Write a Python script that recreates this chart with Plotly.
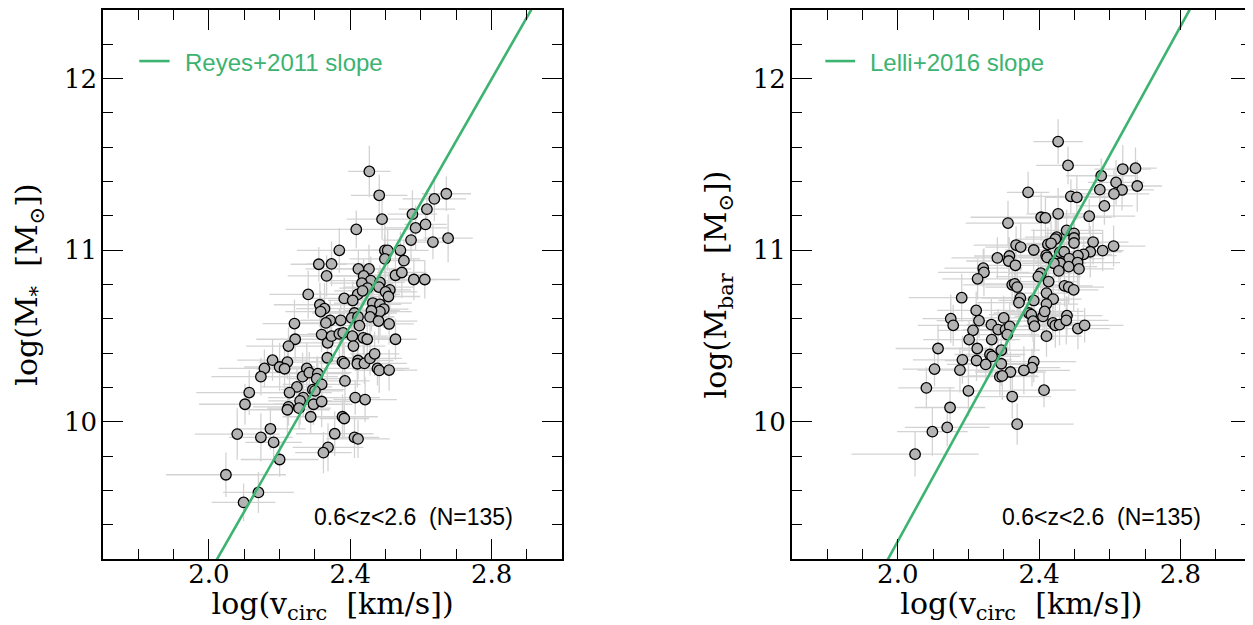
import plotly.graph_objects as go

# ---------------- Left panel: stellar-mass TFR ----------------
vc_left = [
    2.454, 2.482, 2.672, 2.638, 2.617, 2.576, 2.490, 2.613, 2.585, 2.417,
    2.677, 2.572, 2.634, 2.369, 2.498, 2.506, 2.542, 2.498, 2.552, 2.311,
    2.347, 2.423, 2.453, 2.333, 2.438, 2.528, 2.546, 2.580, 2.611, 2.458,
    2.433, 2.484, 2.449, 2.481, 2.281, 2.512, 2.500, 2.421, 2.435, 2.383,
    2.407, 2.508, 2.464, 2.484, 2.314, 2.327, 2.316, 2.495, 2.484, 2.460,
    2.412, 2.404, 2.456, 2.422, 2.343, 2.373, 2.331, 2.480, 2.510, 2.426,
    2.242,
    2.244, 2.319, 2.336, 2.347, 2.369, 2.380, 2.406, 2.437, 2.448, 2.528,
    2.225, 2.409, 2.180, 2.222, 2.335, 2.378, 2.383, 2.422, 2.420, 2.440,
    2.456, 2.469, 2.157, 2.200, 2.214, 2.277,
    2.477, 2.482, 2.510, 2.147, 2.265, 2.284, 2.308, 2.305, 2.319, 2.385,
    2.249, 2.228, 2.294, 2.300, 2.114, 2.267, 2.258, 2.296, 2.319, 2.414,
    2.442, 2.102, 2.225, 2.222, 2.255, 2.288,
    2.378, 2.383, 2.080, 2.174, 2.147, 2.183, 2.356, 2.412, 2.422, 2.337,
    2.324, 2.200, 2.048, 2.140, 2.098,
]
ms_left = [
    11.459, 11.320, 11.329, 11.299, 11.239, 11.210, 11.181, 11.150, 11.130, 11.121,
    11.070, 11.059, 11.047, 10.999, 10.999, 10.999, 10.999, 10.949, 10.939, 10.918,
    10.920, 10.891, 10.891, 10.850, 10.850, 10.854, 10.870, 10.829, 10.829, 10.823,
    10.808, 10.812, 10.779, 10.785, 10.742, 10.769, 10.757, 10.742, 10.763, 10.719,
    10.707, 10.730, 10.692, 10.684, 10.682, 10.659, 10.642, 10.657, 10.642, 10.647,
    10.634, 10.605, 10.611, 10.611, 10.591, 10.591, 10.576, 10.587, 10.570, 10.560,
    10.572,
    10.481, 10.508, 10.460, 10.499, 10.512, 10.518, 10.499, 10.489, 10.481, 10.481,
    10.441, 10.441, 10.359, 10.348, 10.373, 10.350, 10.340, 10.357, 10.338, 10.340,
    10.369, 10.396, 10.311, 10.319, 10.309, 10.311,
    10.311, 10.299, 10.301, 10.263, 10.263, 10.286, 10.280, 10.251, 10.218, 10.238,
    10.203, 10.170, 10.187, 10.180, 10.170, 10.141, 10.122, 10.102, 10.118, 10.141,
    10.129, 10.102, 10.087, 10.070, 10.079, 10.029,
    10.029, 10.019, 9.928, 9.959, 9.909, 9.880, 9.930, 9.909, 9.900, 9.851,
    9.820, 9.780, 9.691, 9.588, 9.530,
]
ex_left = [
    0.06, 0.08, 0.07, 0.09, 0.08, 0.07, 0.10, 0.06, 0.09, 0.20,
    0.07, 0.08, 0.06, 0.12, 0.09, 0.07, 0.08, 0.10, 0.06, 0.08,
    0.07, 0.15, 0.09, 0.11, 0.08, 0.09, 0.07, 0.06, 0.10, 0.12,
    0.09, 0.07, 0.08, 0.10, 0.11, 0.06, 0.09, 0.12, 0.08, 0.10,
    0.07, 0.09, 0.11, 0.06, 0.13, 0.08, 0.10, 0.07, 0.09, 0.08,
    0.12, 0.09, 0.07, 0.10, 0.08, 0.13, 0.09, 0.11, 0.07, 0.10,
    0.09, 0.11, 0.08, 0.10, 0.12, 0.09, 0.07, 0.10, 0.08, 0.09,
    0.06, 0.12, 0.09, 0.10, 0.08, 0.11, 0.09, 0.07, 0.10, 0.08,
    0.12, 0.09, 0.07, 0.13, 0.10, 0.08, 0.11, 0.09, 0.07, 0.08,
    0.14, 0.10, 0.12, 0.09, 0.08, 0.11, 0.07, 0.10, 0.12, 0.09,
    0.08, 0.15, 0.10, 0.09, 0.11, 0.08, 0.07, 0.09, 0.13, 0.10,
    0.12, 0.09, 0.08, 0.10, 0.07, 0.12, 0.10, 0.09, 0.08, 0.11,
    0.07, 0.09, 0.10, 0.08, 0.11, 0.17, 0.10, 0.09,
]
ey_left = [
    0.15, 0.12, 0.10, 0.13, 0.11, 0.14, 0.12, 0.10, 0.13, 0.11,
    0.14, 0.12, 0.10, 0.13, 0.15, 0.12, 0.11, 0.14, 0.12, 0.10,
    0.13, 0.11, 0.14, 0.12, 0.10, 0.13, 0.15, 0.12, 0.11, 0.14,
    0.12, 0.10, 0.13, 0.11, 0.14, 0.12, 0.15, 0.10, 0.13, 0.12,
    0.11, 0.14, 0.12, 0.10, 0.13, 0.15, 0.12, 0.11, 0.14, 0.12,
    0.10, 0.13, 0.11, 0.14, 0.12, 0.15, 0.10, 0.13, 0.12, 0.11,
    0.14, 0.12, 0.10, 0.13, 0.11, 0.15, 0.12, 0.14, 0.10, 0.13,
    0.12, 0.11, 0.14, 0.12, 0.10, 0.13, 0.15, 0.12, 0.11, 0.14,
    0.12, 0.10, 0.13, 0.11, 0.14, 0.12, 0.15, 0.10, 0.13, 0.12,
    0.11, 0.14, 0.12, 0.10, 0.13, 0.15, 0.12, 0.11, 0.14, 0.12,
    0.10, 0.13, 0.11, 0.14, 0.12, 0.15, 0.10, 0.13, 0.12, 0.11,
    0.14, 0.12, 0.10, 0.13, 0.11, 0.15, 0.12, 0.14, 0.10, 0.13,
    0.12, 0.11, 0.14, 0.12, 0.10, 0.13, 0.12, 0.11,
]

# ---------------- Right panel: baryonic TFR ----------------
vc_right = [
    2.454, 2.482, 2.637, 2.673, 2.576, 2.618, 2.678, 2.635, 2.572, 2.612,
    2.369, 2.490, 2.507, 2.585, 2.406, 2.418, 2.454, 2.542, 2.312, 2.478,
    2.499, 2.450, 2.446, 2.499, 2.553, 2.499, 2.611, 2.335, 2.348, 2.385,
    2.425, 2.434, 2.459, 2.471, 2.580, 2.545, 2.526, 2.510, 2.282, 2.316,
    2.314, 2.333, 2.420, 2.423, 2.485, 2.460, 2.442, 2.509, 2.484, 2.513,
    2.456, 2.242, 2.244, 2.226, 2.405, 2.398, 2.427, 2.324, 2.331, 2.338,
    2.472, 2.484, 2.498, 2.421, 2.181, 2.347, 2.385, 2.440,
    2.343, 2.421,
    2.222, 2.150, 2.157, 2.230, 2.300, 2.265, 2.284, 2.305, 2.317, 2.310,
    2.371, 2.378, 2.411, 2.416, 2.383, 2.387, 2.439, 2.446, 2.458, 2.479, 2.477,
    2.510, 2.529, 2.213, 2.202, 2.266, 2.421, 2.114, 2.225, 2.293, 2.261,
    2.267, 2.183, 2.223, 2.249, 2.293, 2.385, 2.380, 2.357, 2.319, 2.104,
    2.176, 2.289, 2.296, 2.081, 2.200, 2.414,
    2.324, 2.148, 2.140, 2.098, 2.338, 2.049,
]
mb_right = [
    11.633, 11.494, 11.473, 11.478, 11.434, 11.395, 11.374, 11.351, 11.353, 11.328,
    11.337, 11.314, 11.308, 11.258, 11.192, 11.188, 11.212, 11.198, 11.158, 11.115,
    11.098, 11.076, 11.065, 11.071, 11.047, 11.042, 11.024, 11.030, 11.018, 11.001,
    11.034, 11.040, 10.989, 10.991, 10.997, 10.991, 10.976, 10.968, 10.955, 10.966,
    10.937, 10.912, 10.970, 10.958, 10.951, 10.924, 10.924, 10.928, 10.904, 10.891,
    10.879, 10.895, 10.871, 10.833, 10.866, 10.846, 10.817, 10.798, 10.804, 10.785,
    10.792, 10.785, 10.769, 10.750, 10.723, 10.721, 10.707, 10.715,
    10.694, 10.686,
    10.649, 10.601, 10.562, 10.589, 10.605, 10.566, 10.537, 10.537, 10.556, 10.508,
    10.634, 10.624, 10.614, 10.643, 10.586, 10.557, 10.576, 10.562, 10.566, 10.618, 10.591,
    10.543, 10.562, 10.533, 10.479, 10.479, 10.499, 10.427, 10.427, 10.417, 10.392,
    10.381, 10.361, 10.357, 10.334, 10.338, 10.350, 10.315, 10.300, 10.290, 10.307,
    10.301, 10.263, 10.267, 10.197, 10.180, 10.184,
    10.147, 10.083, 9.967, 9.942, 9.986, 9.811,
]
ex_right = [
    0.07, 0.09, 0.08, 0.06, 0.10, 0.08, 0.07, 0.09, 0.08, 0.10,
    0.06, 0.11, 0.09, 0.08, 0.20, 0.10, 0.09, 0.13, 0.12, 0.10,
    0.08, 0.09, 0.11, 0.07, 0.10, 0.08, 0.09, 0.12, 0.10, 0.08,
    0.09, 0.07, 0.08, 0.10, 0.06, 0.09, 0.08, 0.11, 0.13, 0.10,
    0.12, 0.09, 0.11, 0.08, 0.10, 0.07, 0.09, 0.12, 0.08, 0.10,
    0.07, 0.11, 0.13, 0.10, 0.09, 0.12, 0.08, 0.14, 0.10, 0.09,
    0.08, 0.10, 0.07, 0.09, 0.15, 0.11, 0.10, 0.08, 0.12, 0.09,
    0.11, 0.08, 0.10, 0.12, 0.09, 0.07, 0.10, 0.11, 0.08, 0.09,
    0.10, 0.12, 0.08, 0.11, 0.09, 0.10, 0.07, 0.09, 0.08, 0.10,
    0.12, 0.09, 0.11, 0.10, 0.13, 0.08, 0.10, 0.12, 0.09, 0.11,
    0.10, 0.08, 0.14, 0.09, 0.11, 0.10, 0.12, 0.08, 0.13, 0.10,
    0.09, 0.12, 0.11, 0.10, 0.08, 0.13, 0.09, 0.11, 0.10, 0.12,
    0.10, 0.16, 0.18,
]
ey_right = [
    0.13, 0.11, 0.14, 0.12, 0.10, 0.13, 0.15, 0.12, 0.11, 0.14,
    0.12, 0.10, 0.13, 0.11, 0.14, 0.12, 0.15, 0.10, 0.13, 0.12,
    0.11, 0.14, 0.12, 0.10, 0.13, 0.15, 0.12, 0.11, 0.14, 0.12,
    0.10, 0.13, 0.11, 0.14, 0.12, 0.15, 0.10, 0.13, 0.12, 0.11,
    0.14, 0.12, 0.10, 0.13, 0.11, 0.15, 0.12, 0.14, 0.10, 0.13,
    0.12, 0.11, 0.14, 0.12, 0.10, 0.13, 0.15, 0.12, 0.11, 0.14,
    0.12, 0.10, 0.13, 0.11, 0.14, 0.12, 0.15, 0.10, 0.13, 0.12,
    0.11, 0.14, 0.12, 0.10, 0.13, 0.15, 0.12, 0.11, 0.14, 0.12,
    0.10, 0.13, 0.11, 0.14, 0.12, 0.15, 0.10, 0.13, 0.12, 0.11,
    0.14, 0.12, 0.10, 0.13, 0.11, 0.15, 0.12, 0.14, 0.10, 0.13,
    0.12, 0.11, 0.14, 0.12, 0.10, 0.13, 0.12, 0.11, 0.14, 0.12,
    0.10, 0.13, 0.11, 0.14, 0.12, 0.15, 0.10, 0.13, 0.12, 0.11,
    0.14, 0.12, 0.13,
]

assert len(vc_left) == len(ms_left) == len(ex_left) == len(ey_left)
assert len(vc_right) == len(mb_right) == len(ex_right) == len(ey_right)

# Reference relations (slope, intercept)
reyes_slope, reyes_int = 3.60, 1.917
lelli_slope, lelli_int = 3.75, 1.803
line_x = [1.7, 3.0]

x_tick_vals = [2.0, 2.4, 2.8]
y_tick_vals = [10, 11, 12]

GREEN = "#3CB371"
ERR = "#D3D3D3"
FILL = "#B4B4B4"
SERIF = "DejaVu Serif"
SANS = "Liberation Sans"

fig = go.Figure()

panels = [
    ("x", "y", vc_left, ms_left, ex_left, ey_left, reyes_slope, reyes_int),
    ("x2", "y2", vc_right, mb_right, ex_right, ey_right, lelli_slope, lelli_int),
]
for xa, ya, vx, vy, ex, ey, sl, ic in panels:
    fig.add_trace(go.Scatter(
        x=vx, y=vy, mode="markers", xaxis=xa, yaxis=ya,
        marker=dict(size=10, opacity=0),
        error_x=dict(type="data", array=ex, color=ERR, thickness=1.3, width=0),
        error_y=dict(type="data", array=ey, color=ERR, thickness=1.3, width=0),
        hoverinfo="skip", showlegend=False))
    fig.add_trace(go.Scatter(
        x=vx, y=vy, mode="markers", xaxis=xa, yaxis=ya,
        marker=dict(size=10.5, color=FILL, line=dict(color="black", width=1.3)),
        showlegend=False))
    fig.add_trace(go.Scatter(
        x=line_x, y=[sl * v + ic for v in line_x], mode="lines",
        xaxis=xa, yaxis=ya, line=dict(color=GREEN, width=2.6),
        showlegend=False, hoverinfo="skip"))

tickfont = dict(family=SERIF, size=26, color="black")
titlefont = dict(family=SERIF, size=30, color="black")

def xaxis_cfg(domain, anchor):
    return dict(
        domain=domain, anchor=anchor, range=[1.7, 3.0],
        tickmode="array", tickvals=x_tick_vals, ticktext=[f"{v:.1f}" for v in x_tick_vals],
        ticks="inside", ticklen=20, tickwidth=1.3, tickcolor="black",
        mirror="allticks", showline=True, linecolor="black", linewidth=1.5,
        showgrid=False, zeroline=False, tickfont=tickfont, ticklabelstandoff=-9,
        minor=dict(dtick=0.1, tick0=2.0, ticks="inside", ticklen=10,
                   tickwidth=1.3, tickcolor="black", showgrid=False),
        title=dict(text="log(v<sub>circ</sub>&nbsp; [km/s])", font=titlefont, standoff=4),
    )

def yaxis_cfg(anchor, title):
    return dict(
        domain=[0, 1], anchor=anchor, range=[9.2, 12.4],
        tickmode="array", tickvals=y_tick_vals, ticktext=[str(v) for v in y_tick_vals],
        ticks="inside", ticklen=20, tickwidth=1.3, tickcolor="black",
        mirror="allticks", showline=True, linecolor="black", linewidth=1.5,
        showgrid=False, zeroline=False, tickfont=tickfont, ticklabelstandoff=-1,
        minor=dict(dtick=0.2, tick0=10, ticks="inside", ticklen=10,
                   tickwidth=1.3, tickcolor="black", showgrid=False),
        title=dict(text=title, font=titlefont, standoff=17),
    )

fig.update_layout(
    width=1245, height=617,
    margin=dict(l=95, r=1, t=0, b=66),
    paper_bgcolor="white", plot_bgcolor="white",
    showlegend=False,
    xaxis=xaxis_cfg([0, 0.4], "y"),
    xaxis2=xaxis_cfg([0.6, 1.0], "y2"),
    yaxis=yaxis_cfg("x", "log(M<sub>*</sub>&nbsp; [M<sub>⊙</sub>])"),
    yaxis2=yaxis_cfg("x2", "log(M<sub>bar</sub>&nbsp; [M<sub>⊙</sub>])"),
)

# legend-like labels
legend_items = [
    ("x domain", "y domain", 0.079, 0.145, 0.175, "Reyes+2011 slope"),
    ("x2 domain", "y2 domain", 0.073, 0.138, 0.166, "Lelli+2016 slope"),
]
for xr, yr, x0, x1, xt, txt in legend_items:
    fig.add_shape(type="line", xref=xr, yref=yr, x0=x0, x1=x1, y0=0.907, y1=0.907,
                  line=dict(color=GREEN, width=2.6))
    fig.add_annotation(xref=xr, yref=yr, x=xt, y=0.905, text=txt, showarrow=False,
                       xanchor="left", yanchor="middle",
                       font=dict(family=SANS, size=24, color=GREEN))
    fig.add_annotation(xref=xr, yref=yr, x=0.8965, y=0.077,
                       text="0.6&lt;z&lt;2.6&nbsp;&nbsp;(N=135)", showarrow=False,
                       xanchor="right", yanchor="middle",
                       font=dict(family=SANS, size=23, color="black"))

fig.write_html("out.html")
